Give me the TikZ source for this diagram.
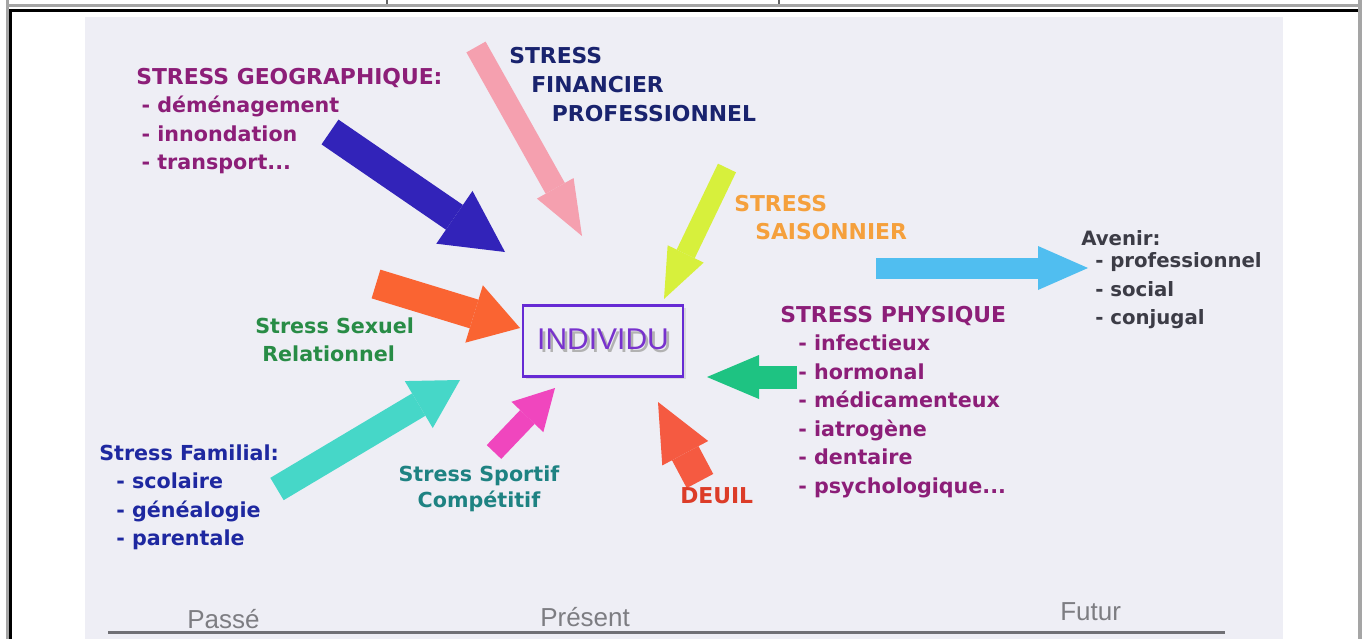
\documentclass[tikz,border=0pt]{standalone}
\usepackage{fontspec}
\newfontfamily\lblfont{DejaVu Sans}
\newfontfamily\arialfont{Liberation Sans}
\usetikzlibrary{arrows.meta, shadows}

\definecolor{bgcol}{RGB}{238,238,245}
\definecolor{tabgray}{RGB}{165,165,165}
\definecolor{geocol}{RGB}{140,30,120}
\definecolor{fincol}{RGB}{25,35,110}
\definecolor{saicol}{RGB}{245,160,60}
\definecolor{avecol}{RGB}{60,60,70}
\definecolor{sexcol}{RGB}{40,140,70}
\definecolor{famcol}{RGB}{30,40,160}
\definecolor{spocol}{RGB}{30,130,130}
\definecolor{deucol}{RGB}{220,60,40}
\definecolor{indcol}{RGB}{120,50,205}
\definecolor{eracol}{RGB}{125,125,130}
% arrow colours
\definecolor{arblue}{RGB}{50,35,185}
\definecolor{arpink}{RGB}{245,160,175}
\definecolor{aryellow}{RGB}{215,240,60}
\definecolor{arsky}{RGB}{80,190,240}
\definecolor{arorange}{RGB}{250,100,50}
\definecolor{argreen}{RGB}{30,195,130}
\definecolor{arcyan}{RGB}{70,215,200}
\definecolor{armagenta}{RGB}{240,70,190}
\definecolor{arred}{RGB}{245,90,65}

\newcommand\lst[1]{\begin{tabular}[t]{@{}l@{}}#1\end{tabular}}
\newcommand\hd[1]{{\fontsize{16.4}{21.4}\selectfont #1}}
\newcommand\shadowtxt[1]{\makebox[0pt][l]{\hspace{2pt}\raisebox{-2pt}{\textcolor{black!30}{#1}}}#1}

\begin{document}
\begin{tikzpicture}[
    x=0.75pt, y=-0.75pt,
    lbl/.style={inner sep=0pt, anchor=base west,
                font=\lblfont\bfseries\fontsize{15.5}{21.4}\selectfont},
    era/.style={inner sep=0pt, anchor=base west, text=eracol,
                font=\arialfont\fontsize{19.5}{22}\selectfont},
    fat/.style n args={4}{draw=#1, line width=#2,
                -{Triangle[width=#3, length=#4, line width=0pt]}},
  ]
  \useasboundingbox (0,0) rectangle (1365,639);
  \fill[white] (0,0) rectangle (1365,639);

  % --- table frame ---
  \draw[tabgray, line width=2.25pt] (6,5) -- (1361,5);
  \draw[black!60, line width=1.5pt] (387,0) -- (387,4);
  \draw[black!60, line width=1.5pt] (779,0) -- (779,4);
  \draw[tabgray, line width=2.25pt] (7,0) -- (7,639);
  \draw[tabgray, line width=3pt] (1360,0) -- (1360,639);
  \draw[black, line width=2.5pt] (9,10.5) -- (1358,10.5);
  \draw[black, line width=2.25pt] (10,9) -- (10,639);

  % --- background ---
  \fill[bgcol] (85,17) rectangle (1283,639);

  % --- centre ---
  \node[draw=indcol!85!blue, line width=2pt, fill=bgcol, text=indcol,
        minimum width=120pt, minimum height=53pt, inner sep=0pt,
        drop shadow={opacity=0.2, shadow xshift=2pt, shadow yshift=-2pt},
        font=\arialfont\fontsize{22.5}{24}\selectfont] (ind) at (603,341)
    {\shadowtxt{INDIVIDU}};

  % --- arrow ends ---
  \coordinate (geo-t) at (330,132);  \coordinate (geo-h) at (505,252);
  \coordinate (fin-t) at (476,47);   \coordinate (fin-h) at (582,236);
  \coordinate (sai-t) at (727,168);  \coordinate (sai-h) at (664,299);
  \coordinate (ave-t) at (876,268);  \coordinate (ave-h) at (1088,268);
  \coordinate (sex-t) at (376,284);  \coordinate (sex-h) at (520,328);
  \coordinate (phy-t) at (797,377);  \coordinate (phy-h) at (707,377);
  \coordinate (fam-t) at (277,489);  \coordinate (fam-h) at (460,380);
  \coordinate (spo-t) at (494,452);  \coordinate (spo-h) at (555,388);
  \coordinate (deu-t) at (700,481);  \coordinate (deu-h) at (658,402);

  \draw[fat={arblue}{22.5pt}{48pt}{46pt}] (geo-t) -- (geo-h);
  \draw[fat={arpink}{16.5pt}{31.5pt}{41pt}] (fin-t) -- (fin-h);
  \draw[fat={aryellow}{15pt}{30pt}{37.5pt}] (sai-t) -- (sai-h);
  \draw[fat={arsky}{15.75pt}{33pt}{37.5pt}] (ave-t) -- (ave-h);
  \draw[fat={arorange}{22.5pt}{45pt}{36pt}] (sex-t) -- (sex-h);
  \draw[fat={argreen}{17.25pt}{33pt}{39pt}] (phy-t) -- (phy-h);
  \draw[fat={arcyan}{19.5pt}{41pt}{36pt}] (fam-t) -- (fam-h);
  \draw[fat={armagenta}{15pt}{33pt}{30pt}] (spo-t) -- (spo-h);
  \draw[fat={arred}{22.5pt}{39pt}{43.5pt}] (deu-t) -- (deu-h);

  % --- labels ---
  \node[lbl, text=geocol] (geo) at (136,84) {\lst{\hd{STRESS GEOGRAPHIQUE:}\\
      \hspace*{4pt}- déménagement\\ \hspace*{4pt}- innondation\\
      \hspace*{4pt}- transport...}};
  \node[lbl, text=fincol] (fin) at (509,63) {\lst{\hd{STRESS}\\[0.4pt]
      \hspace*{16.5pt}\hd{FINANCIER}\\[0.4pt] \hspace*{32pt}\hd{PROFESSIONNEL}}};
  \node[lbl, text=saicol] (sai) at (734,211) {\lst{\hd{STRESS}\\
      \hspace*{15.75pt}\hd{SAISONNIER}}};
  \node[lbl, text=avecol, font=\lblfont\bfseries\fontsize{14.8}{21.4}\selectfont]
    (ave) at (1081,245) {\lst{Avenir:\\[-4.5pt] \hspace*{10.5pt}- professionnel\\
      \hspace*{10.5pt}- social\\ \hspace*{10.5pt}- conjugal}};
  \node[lbl, text=sexcol] (sex) at (255,333) {\lst{Stress Sexuel\\
      \hspace*{5.25pt}Relationnel}};
  \node[lbl, text=geocol] (phy) at (780,322) {\lst{\hd{STRESS PHYSIQUE}\\
      \hspace*{13.5pt}- infectieux\\ \hspace*{13.5pt}- hormonal\\
      \hspace*{13.5pt}- médicamenteux\\ \hspace*{13.5pt}- iatrogène\\
      \hspace*{13.5pt}- dentaire\\ \hspace*{13.5pt}- psychologique...}};
  \node[lbl, text=famcol] (fam) at (99,460) {\lst{Stress Familial:\\
      \hspace*{12.75pt}- scolaire\\ \hspace*{12.75pt}- généalogie\\
      \hspace*{12.75pt}- parentale}};
  \node[lbl, text=spocol, anchor=base] (spo) at (479,481)
    {\begin{tabular}[t]{@{}c@{}}Stress Sportif\\[-1.2pt] Compétitif\end{tabular}};
  \node[lbl, text=deucol] (deu) at (680,503) {\hd{DEUIL}};

  % --- time line ---
  \coordinate (past) at (108,632);
  \coordinate (futr) at (1225,632);
  \draw[eracol!90!black, line width=2.25pt] (past) -- (futr);
  \node[era] (passe) at (187,628) {Passé};
  \node[era] (pres) at (540,626) {Présent};
  \node[era] (fut) at (1060,620) {Futur};
\end{tikzpicture}
\end{document}
